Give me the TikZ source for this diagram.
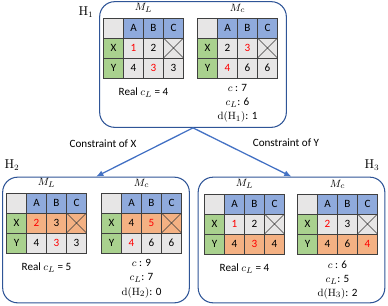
\documentclass[tikz,border=0pt]{standalone}
\usepackage[no-math]{fontspec}
\setmainfont{Carlito}
\usetikzlibrary{positioning,arrows.meta,matrix}

\definecolor{hdblue}{HTML}{8FAADC}
\definecolor{rowgreen}{HTML}{A9D18E}
\definecolor{cellgray}{HTML}{E7E6E6}
\definecolor{cellorange}{HTML}{F4B183}
\definecolor{frameblue}{HTML}{2F5597}
\definecolor{arrblue}{HTML}{4472C4}
\newcommand{\rd}[1]{\textcolor{red}{#1}}

\begin{document}
\begin{tikzpicture}[
    x=0.3mm, y=-0.3mm,
    font=\fontsize{9.5}{12}\selectfont,
    >={Latex[length=2.2mm, width=1.8mm]},
    line/.style={->, draw=arrblue, line width=1.1pt},
    hyp/.style={
        draw=frameblue, line width=0.9pt,
        rounded corners=4.5mm,
        minimum width=56mm,
        minimum height=37.7mm
    },
    cell/.style={
        draw=black!75, line width=0.5pt,
        fill=cellgray, anchor=center,
        minimum size=6mm, inner sep=0pt
    },
    hd/.style={fill=hdblue},
    rw/.style={fill=rowgreen},
    up/.style={fill=cellorange},
    na/.style={path picture={
        \draw[black!75, line width=0.5pt]
          (path picture bounding box.north west) -- (path picture bounding box.south east)
          (path picture bounding box.north east) -- (path picture bounding box.south west);}},
    tab/.style={
        matrix of nodes, nodes in empty cells,
        inner sep=0pt,
        nodes={cell},
        column sep=-0.5pt, row sep=-0.5pt
    },
    hname/.style={font=\fontsize{10.5}{12}\selectfont}
]
\useasboundingbox (0,0) rectangle (388,305);

% Hypothesis frames
\node[hyp] (h1) at (193,64.5) {};
\node[hyp] (h2) at (96,240)   {};
\node[hyp] (h3) at (291.5,240) {};

\node[hname] (h1name) at (86,12)  {$\mathrm{H}_1$};
\node[hname] (h2name) at (12,165) {$\mathrm{H}_2$};
\node[hname] (h3name) at (372,165) {$\mathrm{H}_3$};

% H1
\matrix[tab] (h1L) at (143.5,48) {
  {}        & |[hd]| A & |[hd]| B & |[hd]| C \\
  |[rw]| X  & \rd{1}   & 2        & |[na]|   \\
  |[rw]| Y  & 4        & \rd{3}   & 3        \\
};
\matrix[tab] (h1c) at (237.5,48) {
  {}        & |[hd]| A & |[hd]| B & |[hd]| C \\
  |[rw]| X  & 2        & \rd{3}   & |[na]|   \\
  |[rw]| Y  & \rd{4}   & 6        & 6        \\
};
\node[above=0.3mm of h1L] (h1Lname) {$M_L$};
\node[above=0.3mm of h1c] (h1cname) {$M_c$};
\node[below=1.6mm of h1L] (h1real) {Real $c_L$ = 4};
\node[below=0.6mm of h1c, align=center] (h1cost)
  {$c$ : 7\\$c_L$: 6\\$\mathrm{d}(\mathrm{H}_1)$: 1};

% H2
\matrix[tab] (h2L) at (46.5,223) {
  {}        & |[hd]| A      & |[hd]| B & |[hd]| C  \\
  |[rw]| X  & |[up]| \rd{2} & |[up]| 3 & |[up,na]| \\
  |[rw]| Y  & 4             & \rd{3}   & 3         \\
};
\matrix[tab] (h2c) at (141.5,223) {
  {}        & |[hd]| A & |[hd]| B      & |[hd]| C  \\
  |[rw]| X  & |[up]| 4 & |[up]| \rd{5} & |[up,na]| \\
  |[rw]| Y  & \rd{4}   & 6             & 6         \\
};
\node[above=0.3mm of h2L] (h2Lname) {$M_L$};
\node[above=0.3mm of h2c] (h2cname) {$M_c$};
\node[below=1.6mm of h2L] (h2real) {Real $c_L$ = 5};
\node[below=0.6mm of h2c, align=center] (h2cost)
  {$c$ : 9\\$c_L$: 7\\$\mathrm{d}(\mathrm{H}_2)$: 0};

% H3
\matrix[tab] (h3L) at (244.5,224) {
  {}        & |[hd]| A & |[hd]| B      & |[hd]| C \\
  |[rw]| X  & \rd{1}   & 2             & |[na]|   \\
  |[rw]| Y  & |[up]| 4 & |[up]| \rd{3} & |[up]| 4 \\
};
\matrix[tab] (h3c) at (337.5,224) {
  {}        & |[hd]| A & |[hd]| B & |[hd]| C      \\
  |[rw]| X  & \rd{2}   & 3        & |[na]|        \\
  |[rw]| Y  & |[up]| 4 & |[up]| 6 & |[up]| \rd{4} \\
};
\node[above=0.3mm of h3L] (h3Lname) {$M_L$};
\node[above=0.3mm of h3c] (h3cname) {$M_c$};
\node[below=1.6mm of h3L] (h3real) {Real $c_L$ = 4};
\node[below=0.6mm of h3c, align=center] (h3cost)
  {$c$ : 6\\$c_L$: 5\\$\mathrm{d}(\mathrm{H}_3)$: 2};

% Branches
\draw[line] (h1.south) -- (h2.north);
\draw[line] (h1.south) -- (h3.north);
\node (cx) at (103,144) {Constraint of X};
\node (cy) at (286,143) {Constraint of Y};

\end{tikzpicture}
\end{document}
